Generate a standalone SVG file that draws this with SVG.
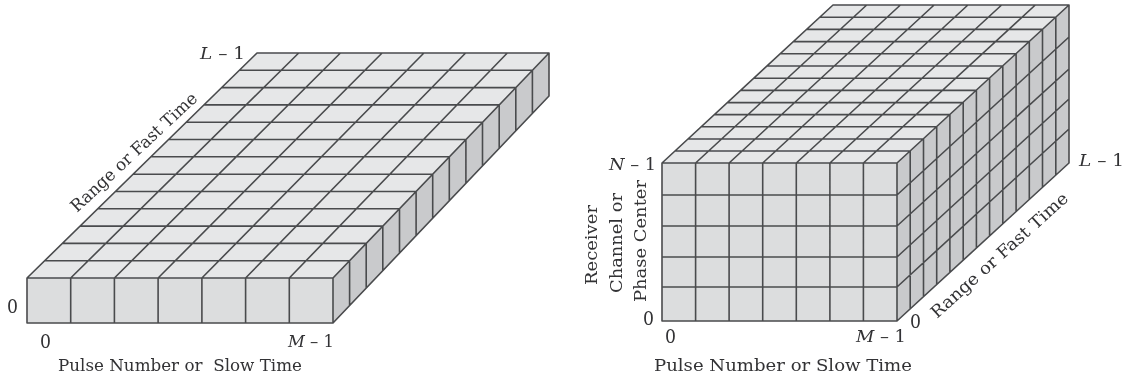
<svg xmlns="http://www.w3.org/2000/svg" width="1132" height="378" viewBox="0 0 1132 378">
<style>
.top{fill:#e6e7e8}.front{fill:#dcddde}.side{fill:#c9cacc}
.e{stroke:#4a4b4d;stroke-width:1.6;fill:none;stroke-linejoin:round}
text{font-family:"DejaVu Serif","Liberation Serif",serif;font-size:17px;fill:#333335}
.i{font-style:italic}
.d{font-size:19px}
</style>
<defs><filter id="soft" x="-5%" y="-5%" width="110%" height="110%"><feGaussianBlur stdDeviation="0.4"/></filter></defs>
<rect width="1132" height="378" fill="#fff"/>
<g filter="url(#soft)">
<g id="left-block">
<polygon class="top" points="27,278 257,53 549,53 333,278"/>
<polygon class="front" points="27,278 333,278 333,323 27,323"/>
<polygon class="side" points="333,278 549,53 549,96 333,323"/>
<path class="e" d="M27,278L257,53H549V96L333,323H27V278H333V323M333,278L549,53
M70.7,278L298.7,53M114.4,278L340.4,53M158.1,278L382.1,53M201.9,278L423.9,53M245.6,278L465.6,53M289.3,278L507.3,53
M239.3,70.3H532.4M221.6,87.6H515.8M203.9,104.9H499.2M186.2,122.2H482.5M168.5,139.5H465.9M150.8,156.8H449.3M133.2,174.2H432.7M115.5,191.5H416.1M97.8,208.8H399.5M80.1,226.1H382.8M62.4,243.4H366.2M44.7,260.7H349.6
M70.7,278V323M114.4,278V323M158.1,278V323M201.9,278V323M245.6,278V323M289.3,278V323
M532.4,70.3V113.5M515.8,87.6V130.9M499.2,104.9V148.4M482.5,122.2V165.8M465.9,139.5V183.3M449.3,156.8V200.8M432.7,174.2V218.2M416.1,191.5V235.7M399.5,208.8V253.2M382.8,226.1V270.6M366.2,243.4V288.1M349.6,260.7V305.5"/>
</g>
<g id="right-block">
<polygon class="top" points="662,163 833,5 1069,5 897,163"/>
<polygon class="front" points="662,163 897,163 897,321 662,321"/>
<polygon class="side" points="897,163 1069,5 1069,163 897,321"/>
<path class="e" d="M662,163L833,5H1069V163L897,321H662V163H897V321M897,163L1069,5
M695.6,163L866.7,5M729.1,163L900.4,5M762.7,163L934.1,5M796.3,163L967.9,5M829.9,163L1001.6,5M863.4,163L1035.3,5
M819.8,17.2H1055.8M806.7,29.4H1042.5M793.5,41.6H1029.3M780.4,53.8H1016.1M767.2,66H1002.8M754.1,78.2H989.6M740.9,90.4H976.4M727.8,102.6H963.2M714.6,114.6H949.9M701.5,126.8H936.7M688.3,139H923.5M675.2,151H910.2
M695.6,163V321M729.1,163V321M762.7,163V321M796.3,163V321M829.9,163V321M863.4,163V321
M662,195H897L1069,37M662,226H897L1069,69M662,257H897L1069,99M662,287H897L1069,129
M1055.8,17.2V175.2M1042.5,29.4V187.3M1029.3,41.6V199.5M1016.1,53.8V211.6M1002.8,66V223.8M989.6,78.2V235.9M976.4,90.4V248.1M963.2,102.6V260.2M949.9,114.6V272.4M936.7,126.8V284.5M923.5,139V296.7M910.2,151V308.8"/>
</g>
<g id="left-labels">
<text x="200" y="59" textLength="45" lengthAdjust="spacingAndGlyphs"><tspan class="i">L</tspan> – 1</text>
<text class="d" x="7" y="313" textLength="11" lengthAdjust="spacingAndGlyphs">0</text>
<text class="d" x="40" y="348" textLength="11" lengthAdjust="spacingAndGlyphs">0</text>
<text x="288" y="347" textLength="46" lengthAdjust="spacingAndGlyphs"><tspan class="i">M</tspan> – 1</text>
<text x="58" y="371" textLength="244" lengthAdjust="spacingAndGlyphs" xml:space="preserve">Pulse Number or  Slow Time</text>
<text transform="translate(77,213) rotate(-43)" textLength="166" lengthAdjust="spacingAndGlyphs">Range or Fast Time</text>
</g>
<g id="right-labels">
<text x="609" y="170" textLength="47" lengthAdjust="spacingAndGlyphs"><tspan class="i">N</tspan> – 1</text>
<text transform="translate(597,285) rotate(-90)" textLength="80" lengthAdjust="spacingAndGlyphs">Receiver</text>
<text transform="translate(622,293) rotate(-90)" textLength="100" lengthAdjust="spacingAndGlyphs">Channel or</text>
<text transform="translate(646,302) rotate(-90)" textLength="122" lengthAdjust="spacingAndGlyphs">Phase Center</text>
<text class="d" x="643" y="325" textLength="11" lengthAdjust="spacingAndGlyphs">0</text>
<text class="d" x="665" y="343" textLength="11" lengthAdjust="spacingAndGlyphs">0</text>
<text x="856" y="342" textLength="50" lengthAdjust="spacingAndGlyphs"><tspan class="i">M</tspan> – 1</text>
<text x="654" y="371" textLength="258" lengthAdjust="spacingAndGlyphs">Pulse Number or Slow Time</text>
<text class="d" x="910" y="328" textLength="11" lengthAdjust="spacingAndGlyphs">0</text>
<text x="1079" y="166" textLength="45" lengthAdjust="spacingAndGlyphs"><tspan class="i">L</tspan> – 1</text>
<text transform="translate(937,319) rotate(-42)" textLength="178" lengthAdjust="spacingAndGlyphs">Range or Fast Time</text>
</g>
</g>
</svg>
